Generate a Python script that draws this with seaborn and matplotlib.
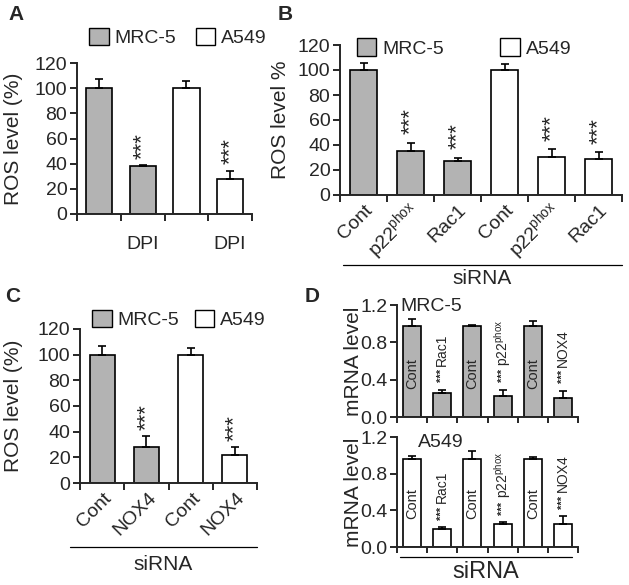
import numpy as np
import pandas as pd
import seaborn as sns
import matplotlib.pyplot as plt
from matplotlib.patches import Patch
from matplotlib.transforms import ScaledTranslation

sns.set_style("ticks")
plt.rcParams["font.family"] = ["Liberation Sans", "DejaVu Sans"]
plt.rcParams["mathtext.fontset"] = "custom"
plt.rcParams["mathtext.rm"] = "Liberation Sans"
plt.rcParams["mathtext.it"] = "Liberation Sans:italic"

GRAY = "#b3b3b3"
cell_palette = {"MRC-5": GRAY, "A549": "white"}

# panel A: ROS level after DPI
a_cells = ["MRC-5", "MRC-5", "A549", "A549"]
a_labels = ["", "DPI", "", "DPI"]
a_mean = [100, 38, 100, 28]
a_err = [7, 1, 6, 6.5]
a_sig = [False, True, False, True]

# panel B: ROS level after p22phox / Rac1 siRNA
b_cells = ["MRC-5", "MRC-5", "MRC-5", "A549", "A549", "A549"]
b_labels = ["Cont", "p22$^{\\rm phox}$", "Rac1", "Cont", "p22$^{\\rm phox}$", "Rac1"]
b_mean = [100, 35, 27, 100, 30, 29]
b_err = [6, 6.5, 2.5, 5, 6.5, 5]
b_sig = [False, True, True, False, True, True]

# panel C: ROS level after NOX4 siRNA
c_cells = ["MRC-5", "MRC-5", "A549", "A549"]
c_labels = ["Cont", "NOX4", "Cont", "NOX4"]
c_mean = [100, 28, 100, 22]
c_err = [7, 8.5, 5, 6]
c_sig = [False, True, False, True]

# panel D: mRNA level
d_labels = ["Cont", "Rac1", "Cont", "p22$^{\\rm phox}$", "Cont", "NOX4"]
d_sig = [False, True, False, True, False, True]
d_mrc_mean = [0.97, 0.26, 0.97, 0.22, 0.97, 0.20]
d_mrc_err = [0.08, 0.03, 0.02, 0.07, 0.06, 0.08]
d_a549_mean = [0.96, 0.195, 0.96, 0.25, 0.96, 0.25]
d_a549_err = [0.03, 0.025, 0.09, 0.02, 0.02, 0.085]

W, H = 629, 585
fig = plt.figure(figsize=(W / 100, H / 100), dpi=100)


def px_axes(l, t, r, b):
    return fig.add_axes([l / W, 1 - b / H, (r - l) / W, (b - t) / H])


def bars(ax, cells, mean, err, width=0.6, lw=1.2):
    n = len(mean)
    df = pd.DataFrame({"bar": [f"b{i}" for i in range(n)], "cell": cells, "value": mean})
    sns.barplot(data=df, x="bar", y="value", hue="cell", palette=cell_palette,
                dodge=False, width=width, edgecolor="black", linewidth=lw,
                errorbar=None, legend=False, ax=ax)
    ax.errorbar(np.arange(n), mean, yerr=[np.zeros(n), err], fmt="none",
                ecolor="black", elinewidth=lw, capsize=3, capthick=lw, zorder=5)
    ax.set_xlim(-0.5, n - 0.5)
    ax.set_xticks(np.arange(n + 1) - 0.5)
    ax.set_xticklabels([])
    ax.set_xlabel("")
    ax.set_ylabel("")
    for s in ["top", "right"]:
        ax.spines[s].set_visible(False)
    for s in ["left", "bottom"]:
        ax.spines[s].set_linewidth(1.4)
    ax.tick_params(axis="both", width=1.4, length=5, labelsize=14, pad=2)


def stars(ax, mean, err, sig, off, size=16):
    for i, (m, e, s) in enumerate(zip(mean, err, sig)):
        if s:
            ax.text(i, m + e + off, "***", rotation=90, ha="center", va="bottom",
                    fontsize=size)


def ros_axis(ax):
    ax.set_ylim(0, 120)
    ax.set_yticks(range(0, 121, 20))


def legend(ax, x, y, spacing):
    handles = [Patch(facecolor=GRAY, edgecolor="black", label="MRC-5"),
               Patch(facecolor="white", edgecolor="black", label="A549")]
    ax.legend(handles=handles, ncol=2, frameon=False, fontsize=14,
              loc="center left", bbox_to_anchor=(x, y), handlelength=1.0,
              handleheight=1.0, handletextpad=0.3, columnspacing=spacing,
              borderaxespad=0, borderpad=0)


def rot_labels(ax, labels, dx):
    ax.set_xticks(np.arange(len(labels)), minor=True)
    ax.set_xticklabels(labels, minor=True, rotation=45, ha="right", va="center",
                       rotation_mode="anchor", fontsize=14)
    ax.tick_params(axis="x", which="minor", length=0, pad=9)
    for t in ax.get_xticklabels(minor=True):
        t.set_transform(t.get_transform() + ScaledTranslation(dx / 100, 0, fig.dpi_scale_trans))


def sirna(ax, x0, x1, yl, yt, size=15):
    ax.plot([x0, x1], [yl, yl], color="black", lw=0.9, transform=ax.transAxes,
            clip_on=False)
    ax.text((x0 + x1) / 2, yt, "siRNA", transform=ax.transAxes, ha="center",
            va="center", fontsize=size)


# ---- A
axA = px_axes(77, 63, 252, 214)
bars(axA, a_cells, a_mean, a_err)
ros_axis(axA)
stars(axA, a_mean, a_err, a_sig, 5)
axA.set_xticks(np.arange(4), minor=True)
axA.set_xticklabels(a_labels, minor=True, fontsize=14)
axA.tick_params(axis="x", which="minor", length=0, pad=16)
axA.set_ylabel("ROS level (%)", fontsize=15)
axA.yaxis.set_label_coords(-0.31, 0.5)
legend(axA, 0.07, 1.17, 1.0)
fig.text(8 / W, 1 - 15 / H, "A", fontsize=15, fontweight="bold", va="center")

# ---- B
axB = px_axes(340, 45, 622, 195)
bars(axB, b_cells, b_mean, b_err, width=0.58)
ros_axis(axB)
stars(axB, b_mean, b_err, b_sig, 7)
rot_labels(axB, b_labels, 6)
axB.set_ylabel("ROS level %", fontsize=15)
axB.yaxis.set_label_coords(-0.177, 0.5)
legend(axB, 0.06, 0.98, 2.9)
sirna(axB, 0.01, 1.0, -0.467, -0.56)
fig.text(278 / W, 1 - 15 / H, "B", fontsize=15, fontweight="bold", va="center")

# ---- C
axC = px_axes(80, 329, 257, 483)
bars(axC, c_cells, c_mean, c_err, width=0.57)
ros_axis(axC)
stars(axC, c_mean, c_err, c_sig, 5)
rot_labels(axC, c_labels, 7)
axC.set_ylabel("ROS level (%)", fontsize=15)
axC.yaxis.set_label_coords(-0.32, 0.5)
legend(axC, 0.07, 1.06, 0.8)
sirna(axC, -0.056, 1.0, -0.416, -0.53)
fig.text(5 / W, 1 - 296 / H, "C", fontsize=15, fontweight="bold", va="center")

# ---- D
axD1 = px_axes(397, 305, 578, 417)
axD2 = px_axes(397, 437, 578, 547)
for ax, mean, err, cell, name, nx, ny in [
        (axD1, d_mrc_mean, d_mrc_err, "MRC-5", "MRC-5", 0.19, 0.99),
        (axD2, d_a549_mean, d_a549_err, "A549", "A549", 0.24, 0.95)]:
    bars(ax, [cell] * 6, mean, err, width=0.6)
    ax.set_ylim(0, 1.2)
    ax.set_yticks([0, 0.4, 0.8, 1.2])
    ax.set_yticklabels(["0.0", "0.4", "0.8", "1.2"])
    ax.tick_params(axis="x", length=4)
    ax.set_ylabel("mRNA level", fontsize=15)
    ax.yaxis.set_label_coords(-0.19, 0.5)
    ax.text(nx, ny, name, transform=ax.transAxes, ha="center", va="center",
            fontsize=14)
    for i, (lab, m, e, s) in enumerate(zip(d_labels, mean, err, d_sig)):
        if s:
            ax.text(i, m + e + 0.08, "***", rotation=90, ha="center",
                    va="bottom", fontsize=8, fontweight="bold")
            ax.text(i, m + e + 0.26, lab, rotation=90, ha="center",
                    va="bottom", fontsize=10)
        else:
            ax.text(i, 0.47, lab, rotation=90, ha="center", va="center",
                    fontsize=10.5)
sirna(axD2, 0.017, 0.967, -0.09, -0.23, size=17)
fig.text(305 / W, 1 - 296 / H, "D", fontsize=15, fontweight="bold", va="center")

fig.savefig("out.png", dpi=100)
